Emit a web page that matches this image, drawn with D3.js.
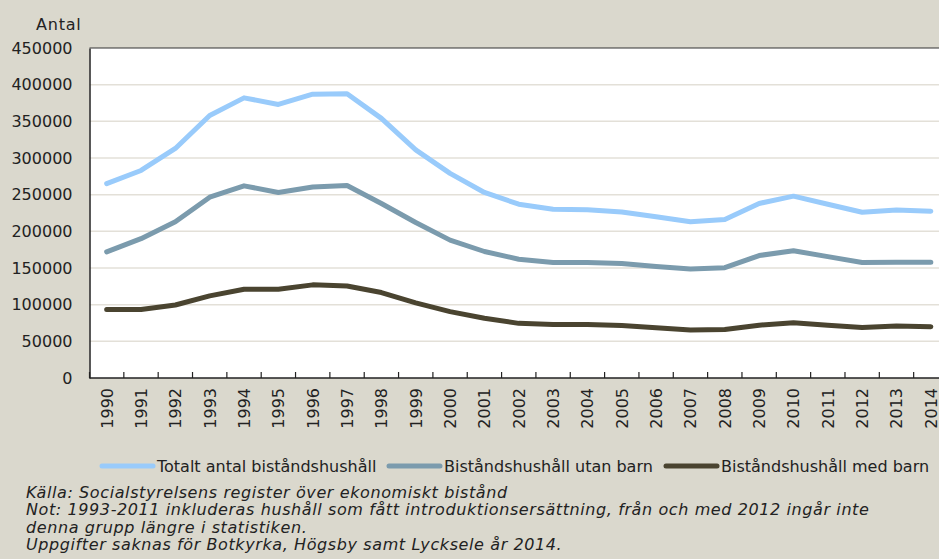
<!DOCTYPE html>
<html>
<head>
<meta charset="utf-8">
<script src="https://d3js.org/d3.v7.min.js"></script>
<style>
  body { margin: 0; background: #dad8cd; }
  svg { display: block; font-family: "DejaVu Sans", sans-serif; }
</style>
</head>
<body>
<div id="chart"></div>
<script>
var width  = 939,
    height = 559;

////////// data //////////
var years = ["1990","1991","1992","1993","1994","1995","1996","1997","1998","1999",
             "2000","2001","2002","2003","2004","2005","2006","2007","2008","2009",
             "2010","2011","2012","2013","2014"];

var totalt = [265000, 283000, 313000, 358000, 382000, 373000, 387000, 387500, 354000, 311000,
              279000, 253000, 237000, 230000, 229500, 226500, 220000, 213000, 216000, 238000,
              248000, 237000, 226000, 229000, 227500];

var utanBarn = [172000, 190000, 213000, 246500, 262000, 253000, 260500, 262500, 238000, 212000,
                188000, 172500, 162000, 157500, 157500, 156000, 152000, 148500, 150500, 167000,
                173500, 165500, 157500, 158000, 158000];

var medBarn = [93500, 93500, 99500, 112000, 121000, 121000, 127000, 125500, 116500, 102500,
               90500, 81500, 74500, 73000, 73000, 71500, 68500, 65500, 66000, 72000,
               75500, 72000, 69000, 71000, 70000];

var yTicks = [0, 50000, 100000, 150000, 200000, 250000, 300000, 350000, 400000, 450000];

var seriesNames  = ["Totalt antal biståndshushåll", "Biståndshushåll utan barn", "Biståndshushåll med barn"];
var seriesColors = ["#99cbfb", "#7b9bad", "#4a4430"];
var seriesValues = [totalt, utanBarn, medBarn];

var notes = [
    "Källa: Socialstyrelsens register över ekonomiskt bistånd",
    "Not: 1993-2011 inkluderas hushåll som fått introduktionsersättning, från och med 2012 ingår inte",
    "denna grupp längre i statistiken.",
    "Uppgifter saknas för Botkyrka, Högsby samt Lycksele år 2014."
];

////////// layout //////////
var plot = {left: 89.5, top: 48, right: 948, bottom: 378};

var svg = d3.select("#chart").append("svg")
    .attr("width", width)
    .attr("height", height);

svg.append("rect")
    .attr("width", width).attr("height", height)
    .attr("fill", "#dad8cd");

var x = d3.scaleBand()
    .domain(years)
    .range([plot.left, plot.right]);

var y = d3.scaleLinear()
    .domain([0, 450000])
    .range([plot.bottom, plot.top]);

// plot background
svg.append("rect")
    .attr("x", plot.left).attr("y", plot.top)
    .attr("width", plot.right - plot.left)
    .attr("height", plot.bottom - plot.top)
    .attr("fill", "#fff");

// gridlines
svg.append("g")
    .selectAll("line")
    .data(yTicks.filter(function(d){ return d > 0 && d < 450000; }))
    .enter().append("line")
    .attr("x1", plot.left).attr("x2", plot.right)
    .attr("y1", function(d){ return y(d); })
    .attr("y2", function(d){ return y(d); })
    .attr("stroke", "#e3e0d8")
    .attr("stroke-width", 1.5);

// top border
svg.append("line")
    .attr("x1", plot.left).attr("x2", plot.right)
    .attr("y1", plot.top).attr("y2", plot.top)
    .attr("stroke", "#333").attr("stroke-width", 1);

// y axis
var yAxis = svg.append("g")
    .attr("transform", "translate(" + plot.left + ",0)")
    .call(d3.axisLeft(y).tickValues(yTicks).tickSize(0).tickPadding(17).tickFormat(d3.format("d")));
yAxis.select(".domain").attr("stroke", "#222").attr("stroke-width", 1.5);
yAxis.selectAll("text").attr("font-size", 16).attr("fill", "#222").attr("font-family", "DejaVu Sans");

// x axis: ticks at band edges, pointing inwards
var edges = years.map(function(d){ return x(d); }).concat([x(years[years.length-1]) + x.bandwidth()]);
svg.append("line")
    .attr("x1", plot.left).attr("x2", plot.right)
    .attr("y1", plot.bottom).attr("y2", plot.bottom)
    .attr("stroke", "#222").attr("stroke-width", 1.5);
svg.append("g").selectAll("line")
    .data(edges).enter().append("line")
    .attr("x1", function(d){ return d; }).attr("x2", function(d){ return d; })
    .attr("y1", plot.bottom).attr("y2", plot.bottom - 6)
    .attr("stroke", "#222").attr("stroke-width", 1.2);

svg.append("g").selectAll("text")
    .data(years).enter().append("text")
    .attr("transform", function(d){
        return "translate(" + (x(d) + x.bandwidth()/2 + 6) + "," + (plot.bottom + 10) + ") rotate(-90)";
    })
    .attr("text-anchor", "end")
    .attr("font-size", 16)
    .attr("fill", "#222")
    .text(function(d){ return d; });

// axis title
svg.append("text")
    .attr("x", 36).attr("y", 30)
    .attr("font-size", 16)
    .attr("letter-spacing", 0.8)
    .attr("fill", "#222")
    .text("Antal");

// lines
var line = d3.line()
    .x(function(d, i){ return x(years[i]) + x.bandwidth()/2; })
    .y(function(d){ return y(d); });

svg.append("g").selectAll("path")
    .data(seriesValues).enter().append("path")
    .attr("d", line)
    .attr("fill", "none")
    .attr("stroke", function(d, i){ return seriesColors[i]; })
    .attr("stroke-width", 5)
    .attr("stroke-linejoin", "round")
    .attr("stroke-linecap", "round");

// legend
var legendX = [100, 387, 664];
var legend = svg.append("g").selectAll("g")
    .data(seriesNames).enter().append("g")
    .attr("transform", function(d, i){ return "translate(" + legendX[i] + ",466)"; });
legend.append("line")
    .attr("x1", 2).attr("x2", 53)
    .attr("stroke", function(d, i){ return seriesColors[i]; })
    .attr("stroke-width", 5)
    .attr("stroke-linecap", "round");
legend.append("text")
    .attr("x", 57).attr("y", 6)
    .attr("font-size", 16)
    .attr("fill", "#222")
    .text(function(d){ return d; });

// notes
svg.append("g").selectAll("text")
    .data(notes).enter().append("text")
    .attr("x", 26)
    .attr("y", function(d, i){ return 498 + i * 17.3; })
    .attr("font-size", 16)
    .attr("letter-spacing", 0.6)
    .attr("font-style", "italic")
    .attr("fill", "#222")
    .text(function(d){ return d; });
</script>
</body>
</html>
